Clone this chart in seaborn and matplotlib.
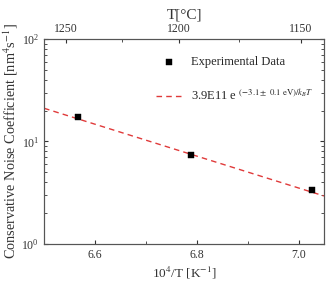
import numpy as np
import pandas as pd
import matplotlib
matplotlib.use('Agg')
import matplotlib.pyplot as plt
import seaborn as sns

# 10^4/T [1/K] and conservative noise coefficient [nm^4/s]
inv_t = [6.566, 6.789, 7.026]
noise = [17.2, 7.4, 3.36]

# fitted exponential, end points
fit_x = [6.5, 7.05]
fit_y = [21.1, 2.94]

top_labels = [1250, 1200, 1150]
top_minor = [1225, 1175]

sns.set_style('ticks')
plt.rcParams['font.family'] = ['Liberation Serif', 'DejaVu Serif']
plt.rcParams['mathtext.fontset'] = 'stix'
plt.rcParams['xtick.direction'] = 'in'
plt.rcParams['ytick.direction'] = 'in'

fig = plt.figure(figsize=(3.34, 2.81), dpi=100)
ax = fig.add_axes([0.132, 0.132, 0.838, 0.729])

df = pd.DataFrame({'x': inv_t, 'y': noise})
fit = pd.DataFrame({'x': fit_x, 'y': fit_y})

sns.lineplot(data=fit, x='x', y='y', ax=ax, color='#e03a3a', lw=1.0,
             dashes=False, linestyle=(0, (4, 3)),
             label=r'3.9E11 e $^{(-3.1\pm\ 0.1\ \mathrm{eV})/k_BT}$')
sns.scatterplot(data=df, x='x', y='y', ax=ax, marker='s', s=14, color='black',
                edgecolor='black', label='Experimental Data', zorder=3)

ax.set_yscale('log')
ax.set_ylim(1, 100)
ax.set_xlim(6.5, 7.05)
ax.set_xticks([6.6, 6.8, 7.0])
ax.set_xticklabels(['6.6', '6.8', '7.0'])
ax.set_xticks([6.7, 6.9], minor=True)
ax.tick_params(which='both', labelsize=8.5, colors='#333333', right=True)
ax.tick_params(which='major', length=3)
ax.tick_params(which='minor', length=2)
ax.tick_params(axis='x', which='both', top=False)
for s in ax.spines.values():
    s.set_color('#555555')
    s.set_visible(True)

ax.set_xlabel(r'10$^4$/T [K$^{-1}$]', fontsize=9.5, color='#333333', labelpad=3)
ax.set_ylabel(r'Conservative Noise Coefficient [nm$^4$s$^{-1}$]', fontsize=10.3,
              color='#333333', labelpad=1)

# top axis in Celsius (positions as in the original, shifted slightly)
shift = 0.0225
ax2 = ax.twiny()
ax2.set_xlim(ax.get_xlim())
ax2.set_xticks([1e4 / (c + 273.15) - shift for c in top_labels])
ax2.set_xticklabels([str(c) for c in top_labels])
ax2.set_xticks([1e4 / (c + 273.15) - shift for c in top_minor], minor=True)
ax2.tick_params(which='both', direction='in', labelsize=8.5, colors='#333333', pad=3)
ax2.tick_params(which='major', length=3)
ax2.tick_params(which='minor', length=2)
ax2.set_xlabel('T[°C]', fontsize=11, color='#333333', labelpad=3)
for s in ax2.spines.values():
    s.set_color('#555555')

handles, labels = ax.get_legend_handles_labels()
ax.legend(handles[::-1], labels[::-1], frameon=False, fontsize=9,
          loc='upper left', bbox_to_anchor=(0.36, 0.97), labelspacing=1.5,
          handlelength=2.0, handletextpad=0.8, markerscale=1.0)

fig.savefig('out.png', dpi=100)
